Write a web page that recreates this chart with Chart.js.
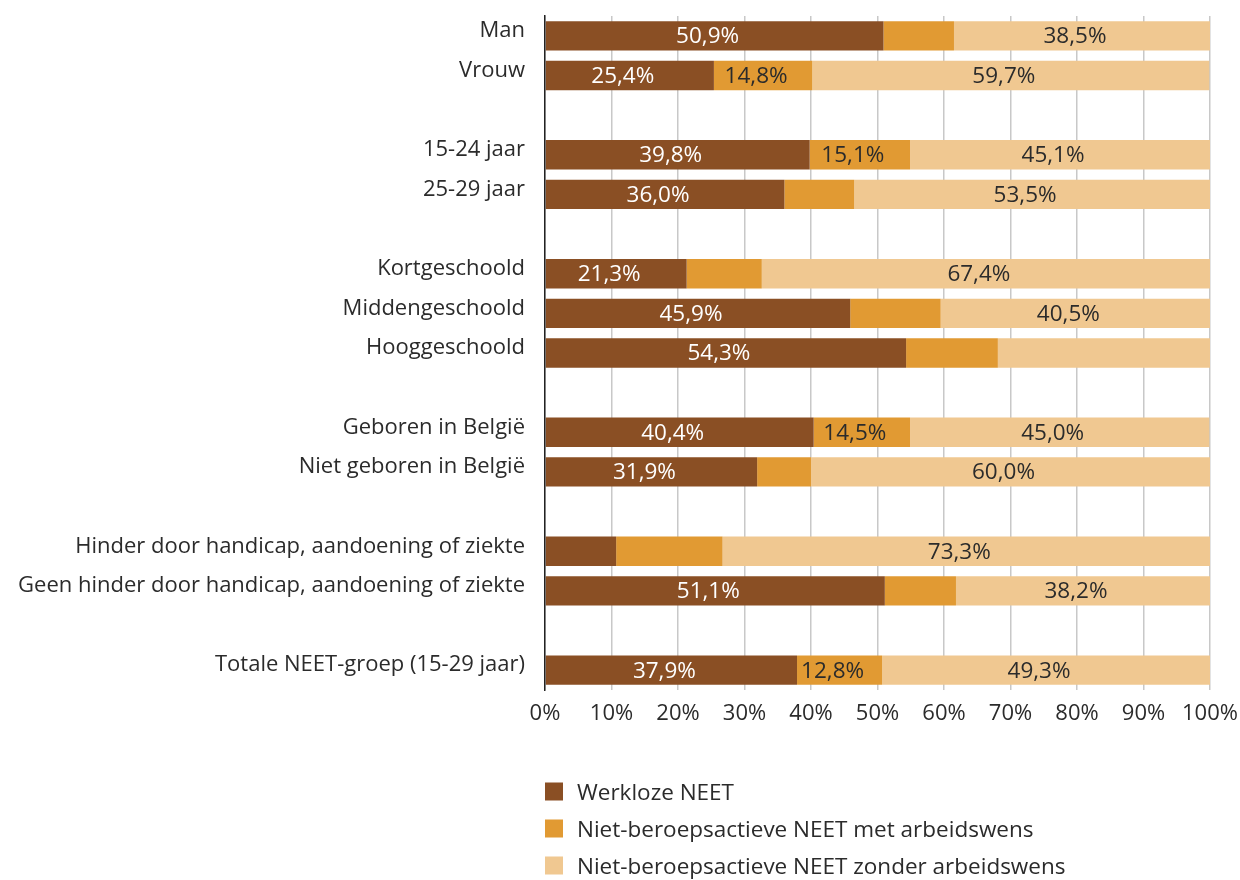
<!DOCTYPE html>
<html>
<head>
<meta charset="utf-8">
<script src="https://cdn.jsdelivr.net/npm/chart.js@4.4.1/dist/chart.umd.min.js"></script>
<style>
  html, body { margin: 0; padding: 0; background: #ffffff; }
  #wrap { width: 1240px; height: 880px; position: relative; }
</style>
</head>
<body>
<div id="wrap"><canvas id="c" width="1240" height="880"></canvas></div>
<script>
// ---- Data ----
const categories = [
  'Man', 'Vrouw', '',
  '15-24 jaar', '25-29 jaar', '',
  'Kortgeschoold', 'Middengeschoold', 'Hooggeschoold', '',
  'Geboren in België', 'Niet geboren in België', '',
  'Hinder door handicap, aandoening of ziekte', 'Geen hinder door handicap, aandoening of ziekte', '',
  'Totale NEET-groep (15-29 jaar)'
];
const seriesNames = [
  'Werkloze NEET',
  'Niet-beroepsactieve NEET met arbeidswens',
  'Niet-beroepsactieve NEET zonder arbeidswens'
];
const werkloze   = [50.9, 25.4, null, 39.8, 36.0, null, 21.3, 45.9, 54.3, null, 40.4, 31.9, null, 10.7, 51.1, null, 37.9];
const metWens    = [10.6, 14.8, null, 15.1, 10.5, null, 11.3, 13.6, 13.8, null, 14.5,  8.1, null, 16.0, 10.7, null, 12.8];
const zonderWens = [38.5, 59.7, null, 45.1, 53.5, null, 67.4, 40.5, 31.9, null, 45.0, 60.0, null, 73.3, 38.2, null, 49.3];
// which segments carry a value label in the original
const labelWerkloze   = [true, true, false, true, true, false, true, true, true, false, true, true, false, false, true, false, true];
const labelMetWens    = [false, true, false, true, false, false, false, false, false, false, true, false, false, false, false, false, true];
const labelZonderWens = [true, true, false, true, true, false, true, true, false, false, true, true, false, true, true, false, true];
const xTicks = [0, 10, 20, 30, 40, 50, 60, 70, 80, 90, 100];

// ---- Style ----
const COLORS = ['#8a4f24', '#e19a33', '#f0c891'];
const LABEL_COLORS = ['#ffffff', '#2b2b2b', '#2b2b2b'];
const FONT = "'Open Sans', 'Noto Sans', sans-serif";
const TEXT = '#2b2b2b';

const fmt = v => v.toFixed(1).replace('.', ',') + '%';

const valueLabels = {
  id: 'valueLabels',
  afterDatasetsDraw(chart) {
    const ctx = chart.ctx;
    ctx.save();
    ctx.font = '22.5px ' + FONT;
    ctx.textAlign = 'center';
    ctx.textBaseline = 'middle';
    chart.data.datasets.forEach((ds, di) => {
      const meta = chart.getDatasetMeta(di);
      meta.data.forEach((el, i) => {
        const v = ds.data[i];
        if (v == null || !ds.showLabel[i]) return;
        const cx = (el.base + el.x) / 2 - 7;
        ctx.fillStyle = LABEL_COLORS[di];
        ctx.fillText(fmt(v), cx, el.y + 1);
      });
    });
    ctx.restore();
  }
};

const bottomLegend = {
  id: 'bottomLegend',
  afterDraw(chart) {
    const ctx = chart.ctx;
    const ca = chart.chartArea;
    ctx.save();
    ctx.font = '22.5px ' + FONT;
    ctx.textAlign = 'left';
    ctx.textBaseline = 'middle';
    chart.data.datasets.forEach((ds, di) => {
      const cy = ca.bottom + 101.5 + di * 37;
      ctx.fillStyle = ds.backgroundColor;
      ctx.fillRect(ca.left, cy - 9, 18, 18);
      ctx.fillStyle = TEXT;
      ctx.fillText(ds.label, ca.left + 32, cy + 2);
    });
    ctx.restore();
  }
};

const datasets = [werkloze, metWens, zonderWens].map((arr, i) => ({
  label: seriesNames[i],
  data: arr,
  showLabel: [labelWerkloze, labelMetWens, labelZonderWens][i],
  backgroundColor: COLORS[i],
  borderWidth: 0,
  barPercentage: 0.74,
  categoryPercentage: 1.0
}));

new Chart(document.getElementById('c'), {
  type: 'bar',
  data: { labels: categories, datasets },
  plugins: [valueLabels, bottomLegend],
  options: {
    indexAxis: 'y',
    responsive: false,
    animation: false,
    devicePixelRatio: 1,
    layout: { padding: { top: 16, right: 30, bottom: 150, left: 0 } },
    plugins: {
      legend: { display: false },
      tooltip: { enabled: false }
    },
    scales: {
      x: {
        stacked: true,
        min: 0,
        max: 100,
        afterBuildTicks(scale) { scale.ticks = xTicks.map(v => ({ value: v })); },
        afterFit(scale) { scale.height = 40; scale.paddingLeft = 0; scale.paddingRight = 0; },
        grid: { display: true, color: '#c8c8c8', lineWidth: 1.5, drawTicks: false },
        border: { display: false },
        ticks: {
          padding: 11,
          color: TEXT,
          font: { family: FONT, size: 22 },
          callback: v => v + '%',
          maxRotation: 0,
          autoSkip: false
        }
      },
      y: {
        stacked: true,
        afterFit(scale) { scale.width = 545; scale.paddingTop = 0; scale.paddingBottom = 0; },
        grid: { display: false, drawTicks: false },
        border: { display: true, color: '#222222', width: 1.5, z: 1 },
        ticks: {
          padding: 20,
          labelOffset: -5,
          color: TEXT,
          autoSkip: false,
          font: { family: FONT, size: 22 }
        }
      }
    }
  }
});
</script>
</body>
</html>
